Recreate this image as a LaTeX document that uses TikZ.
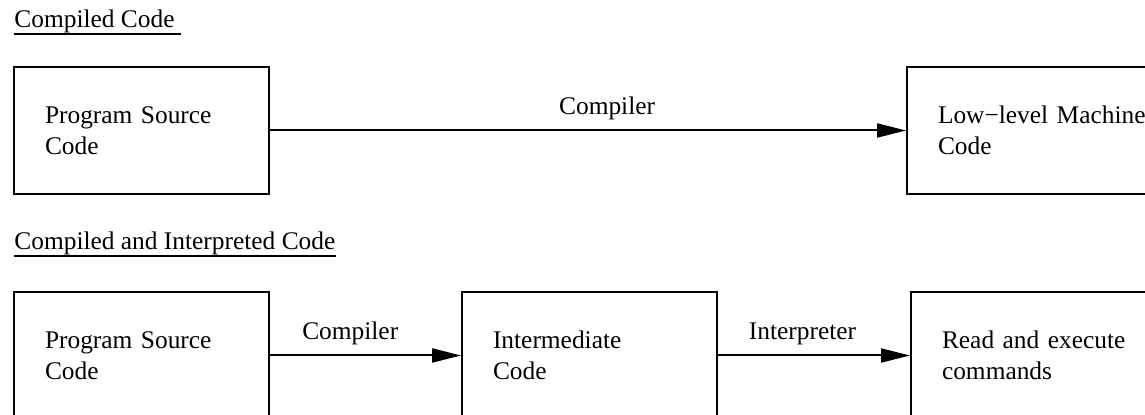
\documentclass[tikz,border=0pt]{standalone}
\usepackage{fontspec}
\setmainfont{Liberation Serif}
\usepackage{tikz}
\usetikzlibrary{positioning}
\usetikzlibrary{arrows.meta}

\tikzset{
  codebox/.style={draw, line width=1pt, minimum width=127.5pt, minimum height=63.5pt,
    text width=96.5pt, inner xsep=15.5pt, align=left},
  widebox/.style={codebox, text width=120pt},
  heading/.style={inner sep=0pt, anchor=base west},
  flowlabel/.style={inner sep=0pt, anchor=base, yshift=8pt},
  flow/.style={-{Triangle[length=14.5pt,width=7pt]}, line width=1pt}
}

\begin{document}
\begin{tikzpicture}[x=0.5pt, y=-0.5pt, every node/.style={font=\fontsize{12.7pt}{15.5pt}\selectfont}]
\path[use as bounding box, clip] (0,0) rectangle (1145,415);

% compiled only
\node[heading](head1) at (14,28) {Compiled Code\kern3.2pt};
\draw[line width=0.8pt] ([yshift=-3pt]head1.base west) -- ([yshift=-3pt]head1.base east);
\node[codebox](src1) at (141.5,130.5) {Program Source\\Code};
\node[widebox, right = 318pt of src1](mach){Low−level Machine\\Code};
\path (src1) edge[flow] node[flowlabel, pos=0.53]{Compiler} (mach);

% compiled and interpreted
\node[heading](head2) at (14,250) {Compiled and Interpreted Code};
\draw[line width=0.8pt] ([yshift=-3pt]head2.base west) -- ([yshift=-3pt]head2.base east);
\node[codebox, below = 48pt of src1](src2){Program Source\\Code};
\node[codebox, right = 95.5pt of src2](inter){Intermediate\\Code};
\node[widebox, right = 96pt of inter](run){Read and execute\\commands};
\path (src2) edge[flow] node[flowlabel, pos=0.42]{Compiler} (inter);
\path (inter) edge[flow] node[flowlabel, pos=0.44]{Interpreter} (run);
\end{tikzpicture}
\end{document}
